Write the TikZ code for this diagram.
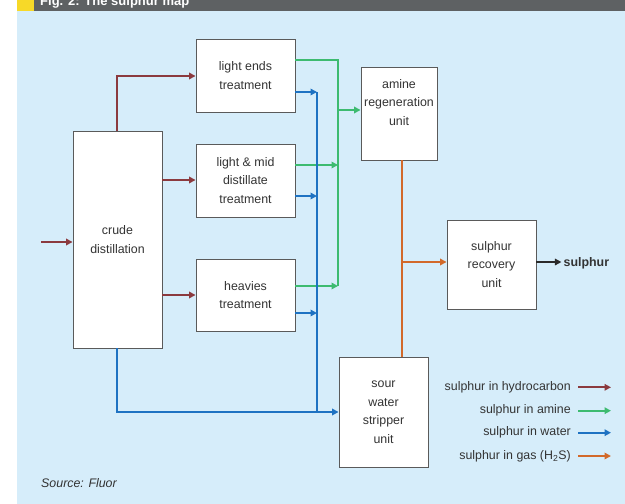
\documentclass[tikz,border=0pt]{standalone}
\usepackage{fontspec}
\setmainfont{Liberation Sans}
\usetikzlibrary{arrows.meta,calc}
\definecolor{bg}{HTML}{D6EDFA}
\definecolor{hdr}{HTML}{5E6163}
\definecolor{yel}{HTML}{F7D928}
\definecolor{txt}{HTML}{333333}
\definecolor{bord}{HTML}{5A5A5A}
\definecolor{cred}{HTML}{8B3A3E}
\definecolor{cgrn}{HTML}{3DBB70}
\definecolor{cblu}{HTML}{1E72C2}
\definecolor{corg}{HTML}{D2692A}
\definecolor{cblk}{HTML}{2A2A2A}
\begin{document}
\begin{tikzpicture}[x=1pt,y=-1pt,
  every node/.style={text=txt,font=\fontsize{12.4}{18.5}\selectfont},
  box/.style={draw=bord,line width=0.9pt,fill=white,align=center,inner sep=0pt},
  flow/.style={line width=1.9pt,-{Triangle[length=6.5pt,width=6.5pt]}},
  line/.style={line width=1.9pt},
  lbl/.style={anchor=east,inner sep=0pt}]
\useasboundingbox (0,0) rectangle (625,504);
% background
\fill[bg] (17,10.5) rectangle (625,504);
\fill[hdr] (17,0) rectangle (625,10.5);
\fill[yel] (17,0) rectangle (34,10.5);
\node[anchor=base west,inner sep=0pt,text=white,font=\bfseries\fontsize{13}{13}\selectfont] (title) at (40,5) {Fig. 2: The sulphur map};
% boxes
\node[box,minimum width=89pt,minimum height=217pt] (cd) at (117.5,239.5) {crude\\distillation};
\node[box,minimum width=99pt,minimum height=73pt] (le) at (245.5,75.5) {light ends\\treatment};
\node[box,minimum width=99pt,minimum height=73pt] (lm) at (245.5,180.5) {light \& mid\\distillate\\treatment};
\node[box,minimum width=99pt,minimum height=72pt] (hv) at (245.5,295) {heavies\\treatment};
\node[box,minimum width=76pt,minimum height=93pt] (am) at (399,113.5) {amine\\regeneration\\unit\\[4pt]};
\node[box,minimum width=89pt,minimum height=89pt] (sr) at (491.5,264.5) {sulphur\\recovery\\unit};
\node[box,minimum width=89pt,minimum height=110pt] (sw) at (383.5,412) {sour\\water\\stripper\\unit};
% input
\coordinate (in) at (41,242);
\draw[flow,cred] (in) -- (in -| cd.west);
% hydrocarbon
\coordinate (cdt) at ([xshift=-0.5pt]cd.north);
\coordinate (lew) at ([yshift=-0.5pt]le.west);
\coordinate (lmw) at ([yshift=0.5pt]lm.west);
\draw[flow,cred] (cdt) |- (lew);
\draw[flow,cred] (cd.east |- lmw) -- (lmw);
\draw[flow,cred] (cd.east |- hv.west) -- (hv.west);
% amine
\coordinate (gb) at (338,286);
\coordinate (leg) at ([yshift=15.5pt]le.east);
\coordinate (lmg) at ([yshift=15.5pt]lm.east);
\coordinate (hvg) at ([yshift=9pt]hv.east);
\coordinate (amg) at ([yshift=3.5pt]am.west);
\draw[line,cgrn] (leg) -| (gb);
\draw[flow,cgrn] (lmg) -- (lmg -| gb);
\draw[flow,cgrn] (hvg) -- (gb);
\draw[flow,cgrn] (amg -| gb) -- (amg);
% water
\coordinate (bb) at (317,412);
\coordinate (leb) at ([yshift=-16.5pt]le.east);
\coordinate (lmb) at ([yshift=-15.5pt]lm.east);
\coordinate (hvb) at ([yshift=-18pt]hv.east);
\draw[line,cblu] (leb -| bb) -- (bb);
\draw[flow,cblu] (leb) -- (leb -| bb);
\draw[flow,cblu] (lmb) -- (lmb -| bb);
\draw[flow,cblu] (hvb) -- (hvb -| bb);
\draw[flow,cblu] (cdt) ++(0,0) coordinate (cdb) (cdb |- cd.south) |- (sw.west);
% gas
\coordinate (ob) at (402,262);
\draw[line,corg] (ob |- sw.north) -- (ob |- am.south);
\draw[flow,corg] (ob) -- (ob -| sr.west);
% product
\node[anchor=west,inner sep=0pt,font=\bfseries\fontsize{12.4}{14}\selectfont] (sout) at ([xshift=27pt,yshift=1pt]sr.east) {sulphur};
\coordinate (sre) at ([yshift=2.5pt]sr.east);
\draw[flow,cblk,line width=1.5pt] (sre) -- ([xshift=-2pt]sre -| sout.west);
% legend
\node[lbl] (l1) at (571,387.3) {sulphur in hydrocarbon};
\node[lbl] (l2) at (571,410.7) {sulphur in amine};
\node[lbl] (l3) at (571,432.7) {sulphur in water};
\node[lbl] (l4) at (571,456) {sulphur in gas (H\textsubscript{2}S)};
\draw[flow,cred] ([xshift=7pt]l1.east) -- ++(33,0);
\draw[flow,cgrn] ([xshift=7pt]l2.east) -- ++(33,0);
\draw[flow,cblu] ([xshift=7pt]l3.east) -- ++(33,0);
\draw[flow,corg] ([xshift=7pt]l4.east) -- ++(33,0);
% source
\node[anchor=base west,inner sep=0pt,font=\itshape\fontsize{12.4}{14}\selectfont] (src) at (41,487.5) {Source: Fluor};
\end{tikzpicture}
\end{document}
